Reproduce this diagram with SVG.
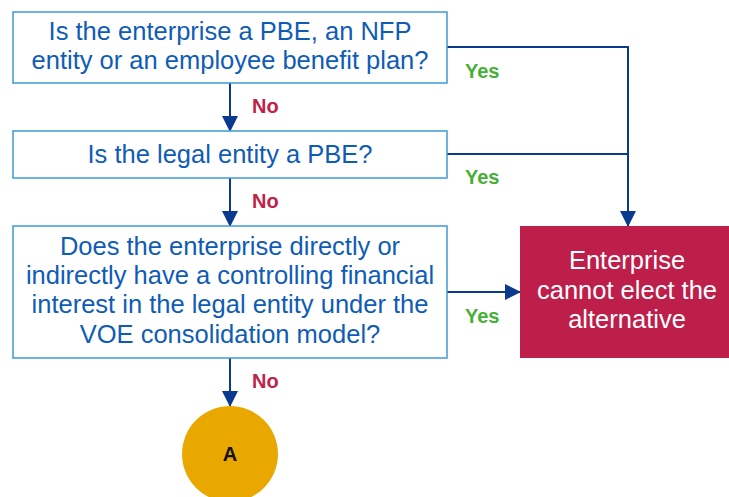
<svg xmlns="http://www.w3.org/2000/svg" width="729" height="497" viewBox="0 0 729 497">
<defs>
<marker id="ah" markerWidth="16" markerHeight="16" refX="15" refY="8" orient="auto" markerUnits="userSpaceOnUse">
<path d="M0,0 L16,8 L0,16 Z" fill="#0a3a8e"/>
</marker>
</defs>
<style>
.q{fill:#ffffff;stroke:#3d9bd8;stroke-width:1.5}
.qt{font-family:"Liberation Sans",Arial,sans-serif;font-size:25.5px;fill:#0f5cb6;text-anchor:middle}
.rt{font-family:"Liberation Sans",Arial,sans-serif;font-size:25.5px;fill:#ffffff;text-anchor:middle}
.c{fill:none;stroke:#0a3a8e;stroke-width:2}
.no{font-family:"Liberation Sans",Arial,sans-serif;font-size:20px;font-weight:bold;fill:#c0224a}
.yes{font-family:"Liberation Sans",Arial,sans-serif;font-size:20px;font-weight:bold;fill:#45b035}
</style>
<rect width="729" height="497" fill="#ffffff"/>
<g id="connectors">
<line class="c" x1="230" y1="83" x2="230" y2="131" marker-end="url(#ah)"/>
<line class="c" x1="230" y1="178" x2="230" y2="226" marker-end="url(#ah)"/>
<line class="c" x1="230" y1="358" x2="230" y2="406" marker-end="url(#ah)"/>
<polyline class="c" points="447,47 628,47 628,226" marker-end="url(#ah)"/>
<line class="c" x1="447" y1="154" x2="628" y2="154"/>
<line class="c" x1="447" y1="292" x2="520" y2="292" marker-end="url(#ah)"/>
<text class="no" x="252" y="113">No</text>
<text class="no" x="252" y="208">No</text>
<text class="no" x="252" y="388">No</text>
<text class="yes" x="465" y="78">Yes</text>
<text class="yes" x="465" y="184">Yes</text>
<text class="yes" x="465" y="323">Yes</text>
</g>
<g id="q1">
<rect class="q" x="13" y="12" width="434" height="71"/>
<text class="qt" x="230" y="40">Is the enterprise a PBE, an NFP</text>
<text class="qt" x="230" y="69">entity or an employee benefit plan?</text>
</g>
<g id="q2">
<rect class="q" x="13" y="131" width="434" height="47"/>
<text class="qt" x="230" y="163">Is the legal entity a PBE?</text>
</g>
<g id="q3">
<rect class="q" x="13" y="226" width="434" height="132"/>
<text class="qt" x="230" y="255">Does the enterprise directly or</text>
<text class="qt" x="230" y="284">indirectly have a controlling financial</text>
<text class="qt" x="230" y="313">interest in the legal entity under the</text>
<text class="qt" x="230" y="343">VOE consolidation model?</text>
</g>
<g id="result">
<rect x="520" y="226" width="209" height="132" fill="#bd1f4a"/>
<text class="rt" x="627" y="269">Enterprise</text>
<text class="rt" x="627" y="299">cannot elect the</text>
<text class="rt" x="627" y="328">alternative</text>
</g>
<g id="connA">
<circle cx="230" cy="454" r="48" fill="#e9a800"/>
<text x="230" y="461" font-family="'Liberation Sans',Arial,sans-serif" font-size="20px" font-weight="bold" fill="#111111" text-anchor="middle">A</text>
</g>
</svg>
